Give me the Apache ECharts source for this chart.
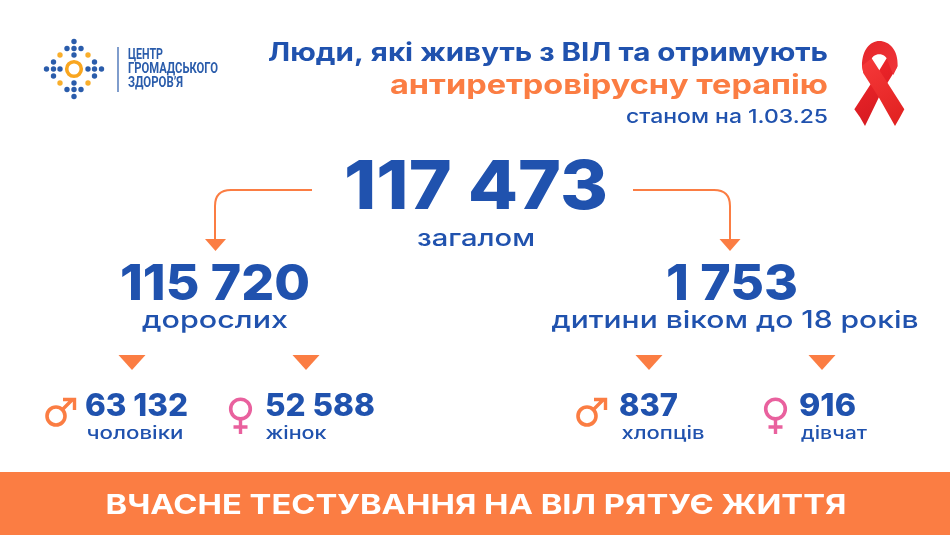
<!DOCTYPE html>
<html>
<head>
<meta charset="utf-8">
<style>html,body{margin:0;background:#fff}#main{width:950px;height:535px}</style>
<script src="https://cdn.jsdelivr.net/npm/echarts@6/dist/echarts.min.js"></script>
</head>
<body>
<div id="main"></div>
<script>
// data
const titleLines = ['Люди, які живуть з ВІЛ та отримують', 'антиретровірусну терапію', 'станом на 1.03.25'];
const logoLines = ['ЦЕНТР', 'ГРОМАДСЬКОГО', 'ЗДОРОВ’Я'];
const totalValue = 117473;
const totalLabel = 'загалом';
const groupValues = [115720, 1753];
const groupLabels = ['дорослих', 'дитини віком до 18 років'];
const sexValues = [63132, 52588, 837, 916];
const sexLabels = ['чоловіки', 'жінок', 'хлопців', 'дівчат'];
const footerText = 'ВЧАСНЕ ТЕСТУВАННЯ НА ВІЛ РЯТУЄ ЖИТТЯ';

const BLUE = '#2052ae';
const ORANGE = '#fb7d43';
const PINK = '#e9619e';
const FONT = 'Inter';

const fmt = v => String(v).replace(/\B(?=(\d{3})+$)/g, ' ');

const measure = document.createElement('canvas').getContext('2d');
// text stretched to the width it has in the picture
function text(str, x, y, size, fill, weight, width, align, family) {
	family = family || FONT;
	measure.font = `${weight} ${size}px "${family}"`;
	const w = measure.measureText(str).width;
	return {
		type: 'text', x, y, scaleX: width ? width / w : 1,
		style: { text: str, x: 0, y: 0, fill, fontFamily: family, fontSize: size, fontWeight: weight, align: align || 'center', verticalAlign: 'middle' }
	};
}
const tri = (cx, top, w, h) => ({
	type: 'polygon',
	shape: { points: [[cx - w / 2, top], [cx + w / 2, top], [cx, top + h]] },
	style: { fill: ORANGE }
});
// graphic has no plain path type, so each svg path gets its own shape class
let pathCount = 0;
function svg(d, style, extra) {
	const name = 'svgPath' + (pathCount++);
	echarts.graphic.registerShape(name, echarts.graphic.extendPath(d, {}));
	return Object.assign({ type: name, style }, extra);
}

const els = [];

// logo
const LX = 74, LY = 69;
const blueDots = [[0,-27.5],[-7,-20.5],[0,-20.5],[7,-20.5],[0,-14]];
for (let k = 0; k < 4; k++) {
	blueDots.forEach(d => {
		const p = k == 0 ? d : k == 1 ? [-d[1], d[0]] : k == 2 ? [-d[0], -d[1]] : [d[1], -d[0]];
		els.push({ type: 'circle', shape: { cx: LX + p[0], cy: LY + p[1], r: 2.7 }, style: { fill: '#2a5cab' } });
	});
}
[[-14,-14],[14,-14],[-14,14],[14,14]].forEach(p => {
	els.push({ type: 'circle', shape: { cx: LX + p[0], cy: LY + p[1], r: 2.7 }, style: { fill: '#f9ae2b' } });
});
els.push({ type: 'circle', shape: { cx: LX, cy: LY, r: 7.3 }, style: { fill: 'none', stroke: '#f9a61f', lineWidth: 3.6 } });
els.push({ type: 'line', shape: { x1: 118, y1: 47, x2: 118, y2: 92 }, style: { stroke: '#2a5cab', lineWidth: 1.2 } });
const logoW = [35, 90, 55];
logoLines.forEach((s, i) => els.push(text(s, 128, 55 + i * 14.4, 14, '#2a5cab', 700, logoW[i], 'left', 'Roboto')));

// title
els.push(text(titleLines[0], 828, 53, 25, BLUE, 700, 560, 'right'));
els.push(text(titleLines[1], 828, 86, 26, ORANGE, 700, 438, 'right'));
els.push(text(titleLines[2], 828, 117, 19, BLUE, 500, 202, 'right'));

// ribbon, drawn in the 3x zoom coordinates
const ribbon = [
	{ path: 'M140 85 L172 110 L120 195 L75 288 L60 262 L43 238 L100 150 Z', fill: ['#f3282c', '#d0181f'] },
	{ path: 'M66 108 C66 60 90 33 118 33 C148 33 175 60 173 108 L160 135 L143 93 C140 80 130 73 118 73 C105 73 97 80 95 88 L70 130 Z', fill: ['#e5262a', '#f0353a'] },
	{ path: 'M66 108 L95 85 L150 170 L193 238 L180 262 L165 288 L118 205 L70 130 Z', fill: ['#f6393a', '#e0201f'] }
];
ribbon.forEach(r => els.push(svg(r.path,
	{ fill: new echarts.graphic.LinearGradient(0, 0, 1, 1, [{ offset: 0, color: r.fill[0] }, { offset: 1, color: r.fill[1] }]) },
	{ x: 840, y: 30, scaleX: 1 / 3, scaleY: 1 / 3 })));

// total
els.push(text(fmt(totalValue), 476, 189, 68, BLUE, 800, 264));
els.push(text(totalLabel, 476, 239, 24, BLUE, 500, 118));

// branching arrows
const arrow = d => svg(d, { fill: 'none', stroke: ORANGE, lineWidth: 2 });
els.push(arrow('M312 190 L231 190 Q215 190 215 206 L215 240'));
els.push(arrow('M633 190 L714 190 Q730 190 730 206 L730 240'));
els.push(tri(215.5, 239, 21, 12), tri(730, 239, 21, 12));

// groups
const groupX = [215, 732], groupW = [190, 132], groupLabelX = [215, 735], groupLabelW = [146, 367];
groupValues.forEach((v, i) => {
	els.push(text(fmt(v), groupX[i], 285, 50, BLUE, 800, groupW[i]));
	els.push(text(groupLabels[i], groupLabelX[i], 321, 24, BLUE, 500, groupLabelW[i]));
});
[132, 306, 649, 822].forEach(x => els.push(tri(x, 355, 27, 15)));

// male / female breakdown
const valueX = [85, 265, 619, 799], valueW = [103, 110, 59, 57];
const labelX = [135, 296, 663, 834], labelW = [97, 61, 83, 66];
sexValues.forEach((v, i) => {
	els.push(text(fmt(v), valueX[i], 407, 31, BLUE, 800, valueW[i], 'left'));
	els.push(text(sexLabels[i], labelX[i], 434, 17, BLUE, 500, labelW[i]));
});
const male = ox => [
	{ type: 'circle', shape: { cx: ox + 56, cy: 416, r: 9 }, style: { fill: 'none', stroke: ORANGE, lineWidth: 3.6 } },
	svg(`M${ox + 62} 410 L${ox + 73} 399 M${ox + 63} 399.5 L${ox + 74.5} 399.5 L${ox + 74.5} 410`, { fill: 'none', stroke: ORANGE, lineWidth: 3.4 })
];
const female = ox => [
	{ type: 'circle', shape: { cx: ox + 240.5, cy: 409, r: 9.8 }, style: { fill: 'none', stroke: PINK, lineWidth: 3.6 } },
	svg(`M${ox + 240.5} 419 L${ox + 240.5} 434 M${ox + 233.5} 427 L${ox + 247.5} 427`, { fill: 'none', stroke: PINK, lineWidth: 3.4 })
];
els.push(...male(0), ...female(0), ...male(531), ...female(535));

// footer
els.push({ type: 'rect', shape: { x: 0, y: 472, width: 950, height: 63 }, style: { fill: ORANGE } });
els.push(text(footerText, 476, 506, 27, '#fff', 700, 741));

const chart = echarts.init(document.getElementById('main'));
chart.setOption({ backgroundColor: '#fff', animation: false, graphic: { elements: els } });
</script>
</body>
</html>
